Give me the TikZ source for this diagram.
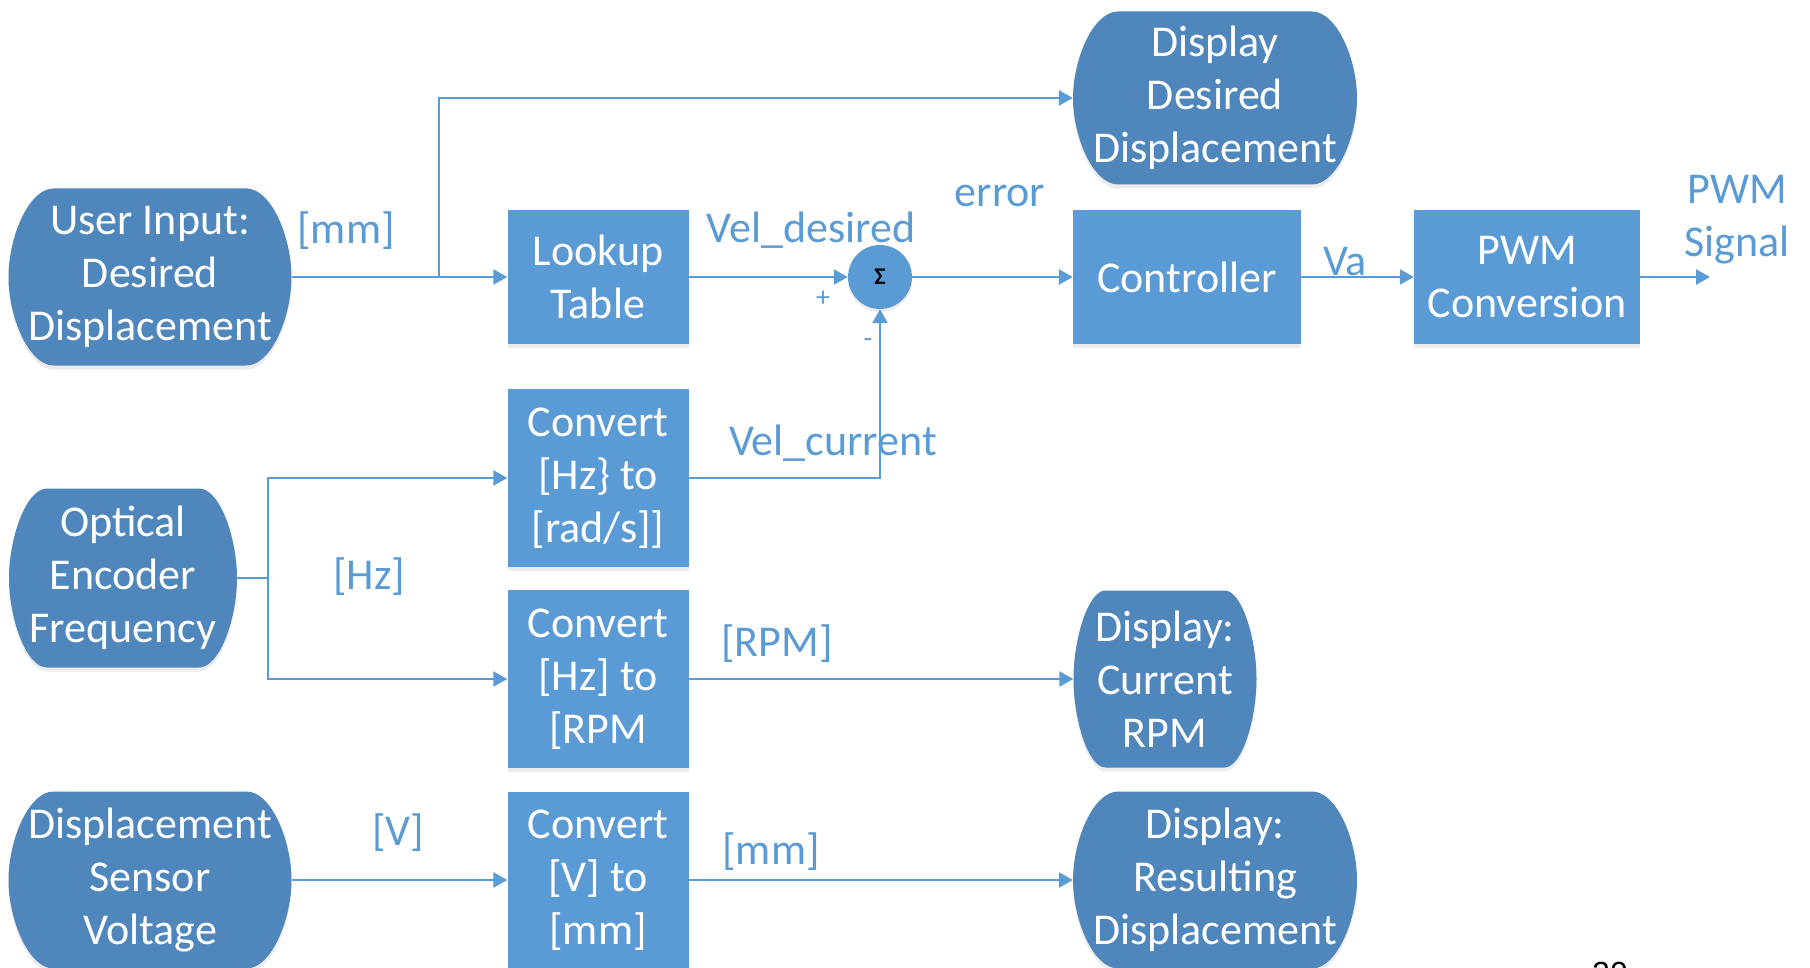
\documentclass[tikz,border=0pt]{standalone}
\usepackage{fontspec}
\setmainfont{Carlito}
\newfontfamily\pgnum{Liberation Sans}
\usetikzlibrary{arrows.meta,calc,shadows}
\definecolor{boxblue}{HTML}{5B9BD5}
\definecolor{termblue}{HTML}{4F86BB}
\definecolor{lineblue}{HTML}{5B9BD5}
\newcommand{\termnode}[7]{% #1 name, #2 cx, #3 cy, #4 w, #5 h, #6 corner radius, #7 text
  \fill[termshape] ({#2-#4/2+#6},{#3-#5/2}) -- ({#2+#4/2-#6},{#3-#5/2})
    .. controls ({#2+#4/2-0.448*#6},{#3-#5/2}) and ({#2+#4/2},{#3-0.448*#5/2}) .. ({#2+#4/2},#3)
    .. controls ({#2+#4/2},{#3+0.448*#5/2}) and ({#2+#4/2-0.448*#6},{#3+#5/2}) .. ({#2+#4/2-#6},{#3+#5/2})
    -- ({#2-#4/2+#6},{#3+#5/2})
    .. controls ({#2-#4/2+0.448*#6},{#3+#5/2}) and ({#2-#4/2},{#3+0.448*#5/2}) .. ({#2-#4/2},#3)
    .. controls ({#2-#4/2},{#3-0.448*#5/2}) and ({#2-#4/2+0.448*#6},{#3-#5/2}) .. ({#2-#4/2+#6},{#3-#5/2}) -- cycle;
  \node[term, minimum width=#4pt, minimum height=#5pt] (#1) at (#2,#3) {#7};
}
\begin{document}
\begin{tikzpicture}[x=1pt,y=-1pt,
  font=\fontsize{44}{53}\selectfont,
  termshape/.style={fill=termblue, drop shadow={opacity=0.15,shadow xshift=0pt,shadow yshift=-4pt}},
  term/.style={rectangle, text=white, align=center, inner sep=0pt},
  blk/.style={rectangle, fill=boxblue, text=white, align=center, inner sep=0pt,
    drop shadow={opacity=0.15,shadow xshift=0pt,shadow yshift=-4pt}},
  conn/.style={draw=lineblue, line width=2.5pt, -{Triangle[length=14pt,width=15pt]}},
  wire/.style={draw=lineblue, line width=2.5pt},
  lbl/.style={text=lineblue, inner sep=0pt},
  small/.style={text=lineblue, inner sep=0pt, font=\fontsize{28}{28}\selectfont},
]
\useasboundingbox[fill=white] (0,0) rectangle (1810,968);

% terminator shapes
\termnode{ui}{150}{277}{283}{177}{45}{User Input:\\Desired\\Displacement}
\termnode{ddd}{1215}{98}{284}{173}{45}{Display\\Desired\\Displacement}
\termnode{oef}{123}{578}{228}{179}{38}{Optical\\Encoder\\Frequency}
\termnode{dsv}{150}{880}{283}{177}{45}{Displacement\\Sensor\\Voltage}
\termnode{dcr}{1165}{679}{183}{177}{32}{Display:\\Current\\RPM}
\termnode{drd}{1215}{880}{284}{177}{45}{Display:\\Resulting\\Displacement}

% blocks
\node[blk, minimum width=181pt, minimum height=133pt] (lt) at (598,277) {Lookup\\Table};
\node[blk, minimum width=228pt, minimum height=133pt] (ctrl) at (1187,277) {Controller};
\node[blk, minimum width=226pt, minimum height=133pt] (pwm) at (1527,277) {PWM\\Conversion};
\node[blk, minimum width=181pt, minimum height=178pt] (chr) at (598,478) {Convert\\{[Hz\} to}\\{[rad/s]]}};
\node[blk, minimum width=181pt, minimum height=178pt] (crpm) at (598,679) {Convert\\{[Hz] to}\\{[RPM}};
\node[blk, minimum width=181pt, minimum height=176pt] (cv) at (598,880) {Convert\\{[V] to}\\{[mm]}};
\node[circle, fill=boxblue, minimum size=64pt, inner sep=0pt, text=black,
  font=\fontsize{24}{24}\selectfont\bfseries,
  drop shadow={opacity=0.15,shadow xshift=0pt,shadow yshift=-3pt}] (sum) at (880,277) {Σ};

% helper coordinates
\coordinate (b1) at (439,277);
\coordinate (ob) at (268,578);
\coordinate (out) at (1710,277);

% connectors
\draw[conn] (ui.east) -- (lt.west);
\draw[conn] (b1) |- (ddd.west);
\draw[conn] (lt.east) -- (sum.west);
\draw[conn] (sum.east) -- (ctrl.west);
\draw[conn] (ctrl.east) -- (pwm.west);
\draw[conn] (pwm.east) -- (out);
\draw[conn] (chr.east) -- (chr.east -| sum.south) -- (sum.south);
\draw[wire] (oef.east) -- (ob);
\draw[conn] (ob) |- (chr.west);
\draw[conn] (ob) |- (crpm.west);
\draw[conn] (crpm.east) -- (dcr.west);
\draw[conn] (dsv.east) -- (cv.west);
\draw[conn] (cv.east) -- (drd.west);

% labels
\node[lbl] (lmm1) at (346,231) {[mm]};
\node[lbl] (lveld) at (811,230) {Vel\_desired};
\node[lbl] (lerr) at (1000,196) {error};
\node[lbl] (lva) at (1345,262) {Va};
\node[lbl, align=center] (lpwm) at (1737,220) {PWM\\Signal};
\node[small] (lplus) at (823,299) {+};
\node[small] (lminus) at (868,343) {-};
\node[lbl] (lvelc) at (833,443) {Vel\_current};
\node[lbl] (lhz) at (369,577) {[Hz]};
\node[lbl] (lrpm) at (777,644) {[RPM]};
\node[lbl] (lv) at (398,833) {[V]};
\node[lbl] (lmm2) at (771,852) {[mm]};
\node[text=black, inner sep=0pt, font=\pgnum\fontsize{32}{32}\selectfont] (pg) at (1610,973) {20};
\end{tikzpicture}
\end{document}
